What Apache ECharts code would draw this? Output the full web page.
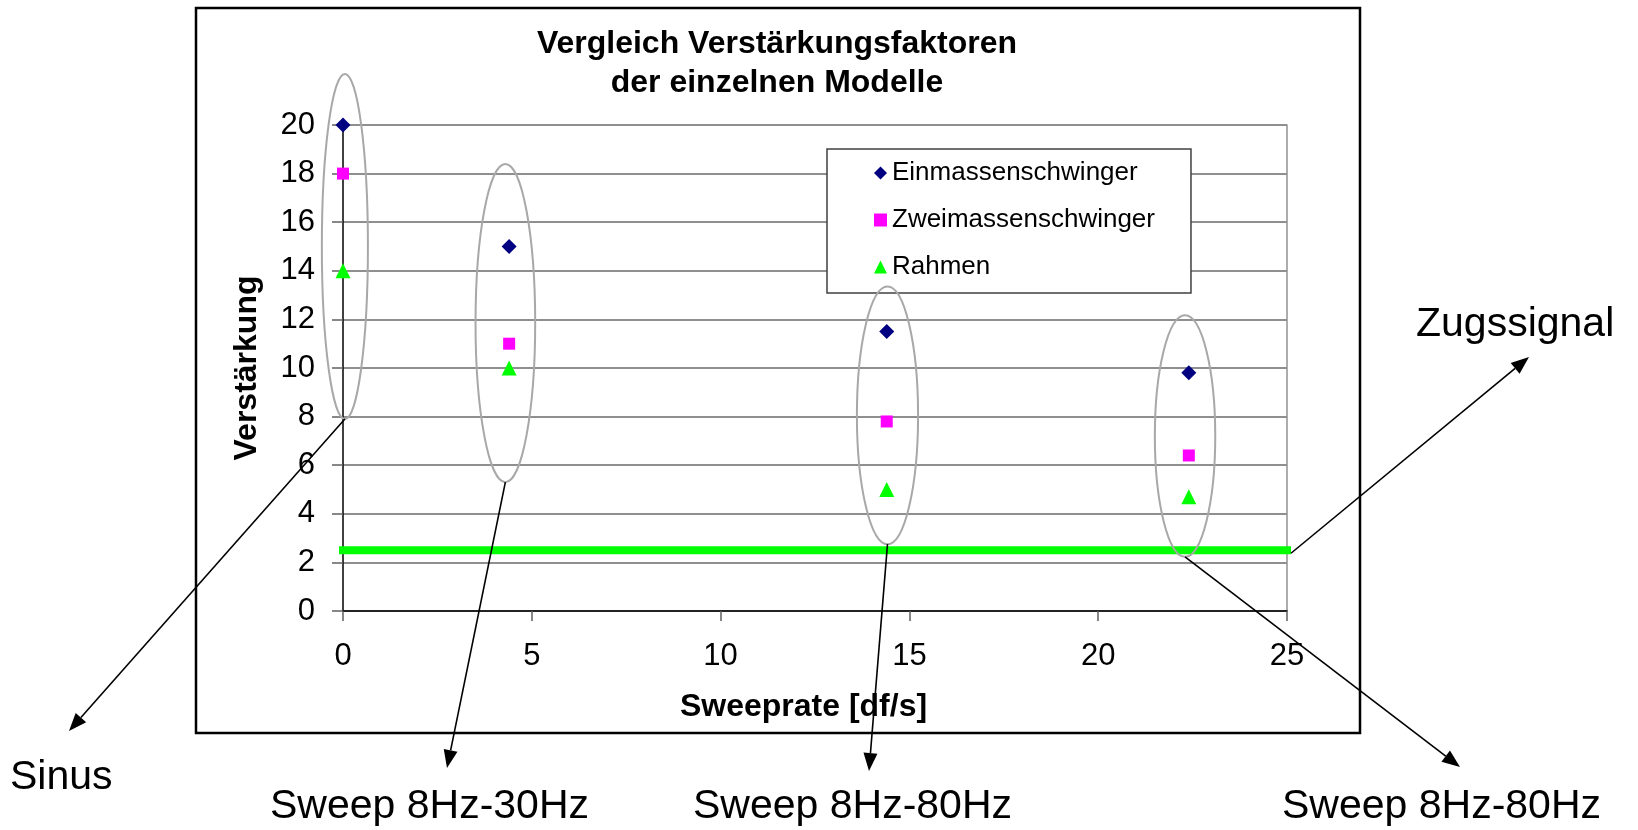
<!DOCTYPE html>
<html>
<head>
<meta charset="utf-8" />
<title>Vergleich Verstärkungsfaktoren</title>
<script src="https://cdn.jsdelivr.net/npm/echarts@6/dist/echarts.min.js"></script>
<style>
  html, body { margin: 0; padding: 0; background: #fff; }
</style>
</head>
<body>
<div id="main" style="width: 1638px;height: 830px;"></div>
<script type="text/javascript">
// Daten
var sweepRates = [0, 4.4, 14.4, 22.4];
var einmassen = [20, 15, 11.5, 9.8];
var zweimassen = [18, 11, 7.8, 6.4];
var rahmen = [14, 10, 5, 4.7];
var zugssignalX = [0, 25];
var zugssignalY = [2.5, 2.5];

var seriesNames = ['Einmassenschwinger', 'Zweimassenschwinger', 'Rahmen'];
var annotationLabels = ['Sinus', 'Sweep 8Hz-30Hz', 'Sweep 8Hz-80Hz', 'Sweep 8Hz-80Hz', 'Zugssignal'];

function pairs(xs, ys) {
  return xs.map(function (x, i) { return [x, ys[i]]; });
}

var font = "'Liberation Sans', Arial, sans-serif";
var myChart = echarts.init(document.getElementById('main'));

var option = {
  backgroundColor: '#fff',
  animation: false,
  title: {
    text: 'Vergleich Verstärkungsfaktoren\nder einzelnen Modelle',
    left: 772,
    top: 20,
    textAlign: 'center',
    textStyle: { fontFamily: font, fontSize: 32, fontWeight: 'bold', color: '#000', lineHeight: 39 }
  },
  grid: { left: 343, top: 125, right: 351, bottom: 219, containLabel: false },
  legend: {
    orient: 'vertical',
    left: 827,
    top: 149,
    data: seriesNames,
    backgroundColor: '#fff',
    borderColor: '#404040',
    borderWidth: 1.5,
    borderRadius: 0,
    padding: [11, 36, 13, 47],
    itemWidth: 13,
    itemHeight: 13,
    itemGap: 21,
    itemTextGap: 12,
    textStyle: { fontFamily: font, fontSize: 26, color: '#000', lineHeight: 26 }
  },
  xAxis: {
    type: 'value',
    min: 0,
    max: 25,
    interval: 5,
    name: 'Sweeprate [df/s]',
    nameLocation: 'middle',
    nameGap: 80,
    nameTextStyle: { fontFamily: font, fontSize: 32, fontWeight: 'bold', color: '#000', padding: [0, 23, 0, 0] },
    axisLine: { show: true, onZero: false, lineStyle: { color: '#000', width: 1.5 } },
    axisTick: { show: true, length: 10, lineStyle: { color: '#606060', width: 1.5 } },
    axisLabel: { fontFamily: font, fontSize: 31, color: '#000', margin: 30 },
    splitLine: { show: false }
  },
  yAxis: [{
    type: 'value',
    min: 0,
    max: 20,
    interval: 2,
    name: 'Verstärkung',
    nameLocation: 'middle',
    nameGap: 80,
    nameTextStyle: { fontFamily: font, fontSize: 32, fontWeight: 'bold', color: '#000' },
    axisLine: { show: true, onZero: false, lineStyle: { color: '#000', width: 1.5 } },
    axisTick: { show: true, length: 11, lineStyle: { color: '#606060', width: 1.5 } },
    axisLabel: { fontFamily: font, fontSize: 31, color: '#000', margin: 28 },
    splitLine: { show: true, lineStyle: { color: '#6a6a6a', width: 1.5 } }
  }, {
    type: 'value',
    min: 0,
    max: 20,
    interval: 2,
    position: 'right',
    axisLine: { show: true, onZero: false, lineStyle: { color: '#909090', width: 1.5 } },
    axisTick: { show: false },
    axisLabel: { show: false },
    splitLine: { show: false }
  }],
  series: [
    {
      name: 'Zugssignal',
      type: 'line',
      data: pairs(zugssignalX, zugssignalY),
      symbol: 'none',
      lineStyle: { color: '#00ff00', width: 8, cap: 'square' },
      z: 1
    },
    {
      name: seriesNames[0],
      type: 'scatter',
      symbol: 'diamond',
      symbolSize: 15,
      itemStyle: { color: '#000080', opacity: 1 },
      data: pairs(sweepRates, einmassen),
      z: 3
    },
    {
      name: seriesNames[1],
      type: 'scatter',
      symbol: 'rect',
      symbolSize: 12,
      itemStyle: { color: '#ff00ff', opacity: 1 },
      data: pairs(sweepRates, zweimassen),
      z: 3
    },
    {
      name: seriesNames[2],
      type: 'scatter',
      symbol: 'triangle',
      symbolSize: 15,
      itemStyle: { color: '#00ff00', opacity: 1 },
      data: pairs(sweepRates, rahmen),
      z: 3
    }
  ]
};
myChart.setOption(option);

// Ellipsen um die Messgruppen (Datenkoordinaten: Mitte x/y, Halbachsen x/y)
var ellipses = [
  [0.05, 15.0, 0.61, 7.1],
  [4.3, 11.85, 0.79, 6.55],
  [14.42, 8.05, 0.81, 5.3],
  [22.3, 7.2, 0.8, 4.97]
];
// Pfeilspitzen und Textpositionen (Pixel)
var arrowTips = [[69, 731], [447, 768], [869, 771], [1460, 767], [1529, 357]];
var labelPos = [[10, 778], [270, 807], [693, 807], [1282, 807], [1416, 325]];

function px(p) { return myChart.convertToPixel({ gridIndex: 0 }, p); }

function arrow(from, to) {
  var dx = to[0] - from[0], dy = to[1] - from[1];
  var len = Math.sqrt(dx * dx + dy * dy);
  var ux = dx / len, uy = dy / len;
  var hl = 18, hw = 7;
  var bx = to[0] - ux * hl, by = to[1] - uy * hl;
  return [
    { type: 'line', shape: { x1: from[0], y1: from[1], x2: bx, y2: by }, style: { stroke: '#000', lineWidth: 1.6 }, z: 20 },
    { type: 'polygon', shape: { points: [to, [bx - uy * hw, by + ux * hw], [bx + uy * hw, by - ux * hw]] }, style: { fill: '#000' }, z: 20 }
  ];
}

var graphics = [{
  type: 'rect',
  shape: { x: 196, y: 8, width: 1164, height: 725 },
  style: { fill: 'none', stroke: '#000', lineWidth: 2.5 },
  z: 0
}];

var starts = [];
ellipses.forEach(function (e) {
  var c = px([e[0], e[1]]);
  var rx = px([e[0] + e[2], e[1]])[0] - c[0];
  var ry = c[1] - px([e[0], e[1] + e[3]])[1];
  graphics.push({
    type: 'ellipse',
    shape: { cx: c[0], cy: c[1], rx: rx, ry: ry },
    style: { fill: 'none', stroke: '#a8a8a8', lineWidth: 2 },
    z: 10
  });
  starts.push([c[0], c[1] + ry]);
});
var lineEnd = px([zugssignalX[1], zugssignalY[1]]);
starts.push([lineEnd[0] + 4, lineEnd[1] + 3]);

annotationLabels.forEach(function (t, i) {
  graphics = graphics.concat(arrow(starts[i], arrowTips[i]));
  graphics.push({
    type: 'text',
    x: labelPos[i][0],
    y: labelPos[i][1],
    style: { text: t, fill: '#000', font: '41px ' + font, textVerticalAlign: 'middle', verticalAlign: 'middle' },
    z: 20
  });
});

myChart.setOption({ graphic: graphics });
</script>
</body>
</html>
